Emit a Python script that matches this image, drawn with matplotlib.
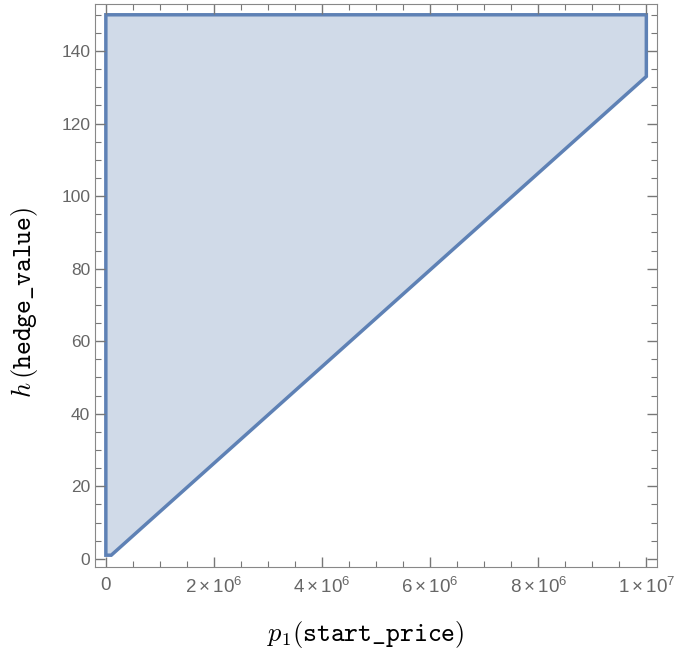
import numpy as np
import matplotlib.pyplot as plt
from matplotlib.ticker import MultipleLocator

# region boundary (start_price, hedge_value)
p1 = [0, 1.0e5, 1.0e7, 1.0e7, 0]
h = [1.0, 1.0, 133.0, 150.0, 150.0]

x_ticks = [0, 2e6, 4e6, 6e6, 8e6, 1e7]
x_labels = [r'$0$', r'$2\times10^{6}$', r'$4\times10^{6}$', r'$6\times10^{6}$',
            r'$8\times10^{6}$', r'$1\times10^{7}$']
y_ticks = [0, 20, 40, 60, 80, 100, 120, 140]

plt.rcParams['font.family'] = ['Liberation Sans', 'DejaVu Sans']
plt.rcParams['mathtext.fontset'] = 'custom'
plt.rcParams['mathtext.rm'] = 'Liberation Sans'
plt.rcParams['mathtext.it'] = 'Liberation Sans:italic'

fig = plt.figure(figsize=(6.74, 6.5), dpi=100)
ax = fig.add_axes([0.141, 0.128, 0.834, 0.866])

ax.fill(p1, h, facecolor='#d0dae8', edgecolor='#5e81b5', linewidth=2.5, joinstyle='miter')

ax.set_xlim(-2.0e5, 1.02e7)
ax.set_ylim(-2.2, 153)

ax.set_xticks(x_ticks)
ax.set_xticklabels(x_labels)
ax.set_yticks(y_ticks)
ax.xaxis.set_minor_locator(MultipleLocator(5e5))
ax.yaxis.set_minor_locator(MultipleLocator(5))

ax.tick_params(which='both', direction='in', top=True, right=True,
               colors='#777777', labelcolor='#666666', labelsize=12.5)
ax.tick_params(axis='x', labelsize=13.5, pad=7)
ax.tick_params(which='major', length=7, width=1)
ax.tick_params(which='minor', length=4, width=0.8)
for s in ax.spines.values():
    s.set_color('#888888')

ax.set_xlabel(r'$p_1(\mathtt{start\_price})$', fontsize=19, math_fontfamily='cm')
ax.set_ylabel(r'$h\,(\mathtt{hedge\_value})$', fontsize=19, math_fontfamily='cm')
ax.xaxis.label.set_va('center')
ax.yaxis.label.set_va('center')
ax.xaxis.set_label_coords(0.482, -0.121)
ax.yaxis.set_label_coords(-0.125, 0.47)

plt.savefig('out.png')
